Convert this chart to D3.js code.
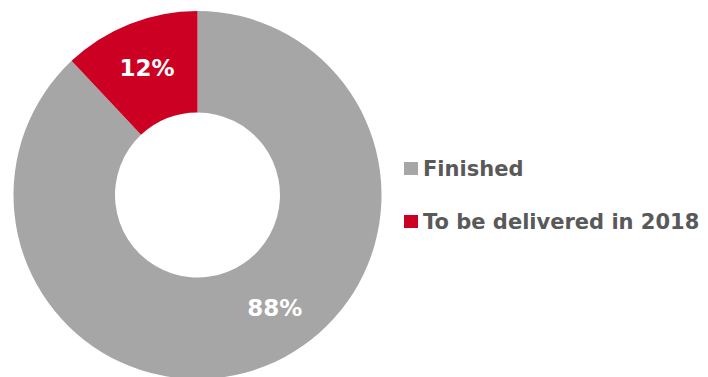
<!DOCTYPE html>
<html>
<head>
<meta charset="utf-8">
<script src="https://cdn.jsdelivr.net/npm/d3@7"></script>
<style>
  html, body { margin: 0; padding: 0; background: #fff; }
  svg { display: block; }
  text { font-family: "DejaVu Sans", sans-serif; font-weight: bold; }
</style>
</head>
<body>
<svg id="chart" width="708" height="377"></svg>
<script>
// Project status split
const categories = ["Finished", "To be delivered in 2018"];
const shares = [88, 12];
const colors = ["#a6a6a6", "#cc0022"];

const width = 708, height = 377;
const cx = 197.5, cy = 195;
const outerR = 184, innerR = 82.5;

const svg = d3.select("#chart");

const data = categories.map((c, i) => ({ name: c, value: shares[i], color: colors[i] }));

const pie = d3.pie().value(d => d.value).sort(null);
const arcs = pie(data);

const arc = d3.arc().innerRadius(innerR).outerRadius(outerR);

const g = svg.append("g").attr("transform", `translate(${cx},${cy})`);

g.selectAll("path.slice")
  .data(arcs)
  .join("path")
  .attr("class", "slice")
  .attr("d", arc)
  .attr("fill", d => d.data.color);

// Value labels, placed around the middle of the ring; the large slice's label
// is pulled back toward its start so it sits lower right
const labelR = 137;
const labelShift = [-12.7 * Math.PI / 180, 0];
g.selectAll("text.value")
  .data(arcs)
  .join("text")
  .attr("class", "value")
  .attr("x", (d, i) => labelR * Math.sin((d.startAngle + d.endAngle) / 2 + labelShift[i]))
  .attr("y", (d, i) => -labelR * Math.cos((d.startAngle + d.endAngle) / 2 + labelShift[i]))
  .attr("dy", "0.36em")
  .attr("text-anchor", "middle")
  .attr("fill", "#fff")
  .attr("font-size", 23)
  .text(d => d.data.value + "%");

// Legend
const legend = svg.append("g").attr("transform", "translate(404,0)");
const rowY = [176, 229];
const item = legend.selectAll("g.item")
  .data(data)
  .join("g")
  .attr("class", "item")
  .attr("transform", (d, i) => `translate(0,${rowY[i]})`);

item.append("rect")
  .attr("x", 0).attr("y", -14)
  .attr("width", 14).attr("height", 13)
  .attr("fill", d => d.color);

item.append("text")
  .attr("x", 19)
  .attr("y", 0)
  .attr("fill", "#595959")
  .attr("font-size", 21)
  .text(d => d.name);
</script>
</body>
</html>
